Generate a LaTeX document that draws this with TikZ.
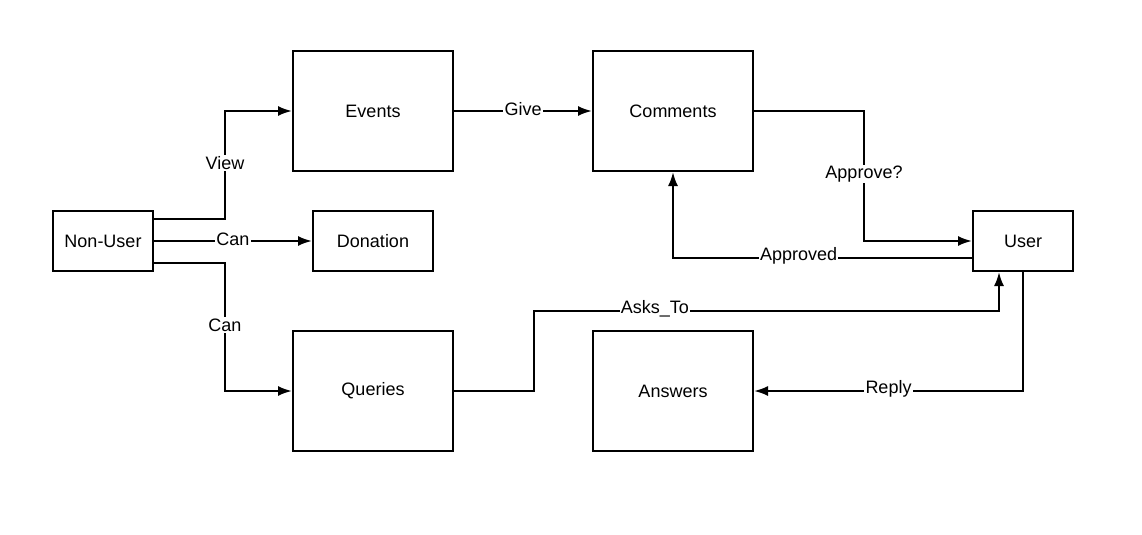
\documentclass[tikz,border=0pt]{standalone}
\usepackage{fontspec}
\setmainfont{Liberation Sans}
\usetikzlibrary{shapes,arrows,arrows.meta}

\begin{document}
\begin{tikzpicture}[auto, node distance=3cm, >={Latex[length=10.5pt,width=7.5pt]}, line width=1.5pt,
    font=\fontsize{13.5}{16}\selectfont]
    	 	% Define block styles
    	 	\tikzstyle{block} = [rectangle, draw, fill=white, text centered, minimum width=120pt, minimum height=90pt, line width=1.5pt]
    	 	\tikzstyle{small block} = [block, minimum width=75pt, minimum height=45pt]
    	 	\tikzstyle{line} = [draw, ->, line width=1.6pt]
    	 	\tikzstyle{tag} = [fill=white, inner sep=1pt, anchor=center, yshift=1.5pt]

    	 	\useasboundingbox (0,0) rectangle (856.5pt,-401.25pt);

    	 	% Nodes
    	 	\node [small block] (non user) at (77.25pt,-180.75pt) {Non-User};
    	 	\node [small block, minimum width=90pt, right of=non user, node distance=202.5pt] (donation) {Donation};
    	 	\node [block, above of=donation, node distance=97.5pt] (events) {Events};
    	 	\node [block, below of=donation, node distance=112.5pt] (queries) {Queries};
    	 	\node [block, right of=events, node distance=225pt] (comments) {Comments};
    	 	\node [block, right of=queries, node distance=225pt] (answers) {Answers};
    	 	\node [small block, right of=donation, node distance=487.5pt] (user) {User};

    	 	% Connecting lines
    	 	\path [line] ([yshift=-6.75pt]non user.north east) -- ++(53.25pt,0) |- node [tag, pos=0.25] {View} (events.west);
    	 	\path [line] (non user) -- node [tag] {Can} (donation);
    	 	\path [line] ([yshift=6.75pt]non user.south east) -- ++(53.25pt,0) |- node [tag, pos=0.25] {Can} (queries.west);
    	 	\path [line] (events) -- node [tag] {Give} (comments);
    	 	\path [line] (comments.east) -- ++(82.5pt,0) |- node [tag, pos=0.25] {Approve?} (user.west);
    	 	\path [line] ([yshift=-12.75pt]user.west) -| node [tag, pos=0.29] {Approved} (comments.south);
    	 	\path [line] (queries.east) -- ++(60pt,0) -- ++(0,60pt) -| node [tag, pos=0.13] {Asks\_To} ([xshift=-18pt]user.south);
    	 	\path [line] (user.south) |- node [tag, pos=0.75] {Reply} (answers.east);
\end{tikzpicture}
\end{document}
